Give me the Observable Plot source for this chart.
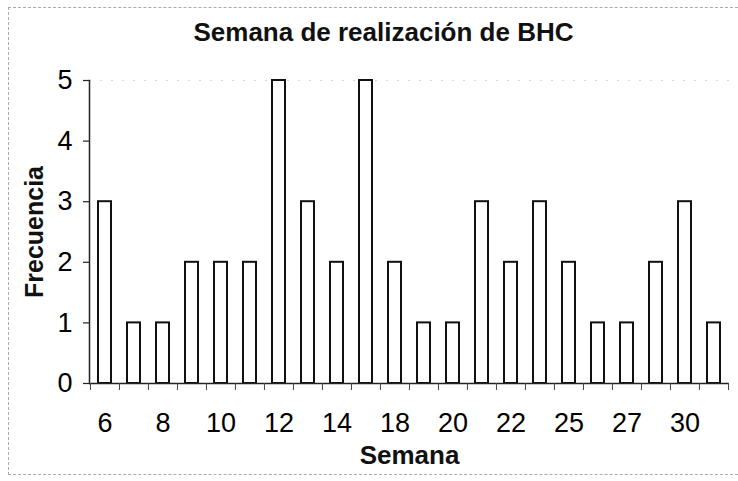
<!DOCTYPE html>
<html>
<head>
<meta charset="utf-8">
<script src="https://cdn.jsdelivr.net/npm/d3@7"></script>
<script src="https://cdn.jsdelivr.net/npm/@observablehq/plot@0.6"></script>
<style>
  html, body { margin: 0; padding: 0; background: #fff; }
  #wrap { position: relative; width: 738px; height: 481px; overflow: hidden; }
  #wrap svg { position: absolute; left: 0; top: 0; }
  #border { position: absolute; left: 8px; top: 7px; width: 740px; height: 468px;
            border: 1px dashed #aaa; box-sizing: border-box; pointer-events: none; }
</style>
</head>
<body>
<div id="wrap"><div id="border"></div></div>
<script>
const title = "Semana de realización de BHC";
const xLabel = "Semana";
const yLabel = "Frecuencia";
const semanas = ["6","7","8","9","10","11","12","13","14","16","18","19","20","21","22","24","25","26","27","28","30","31"];
const frecuencias = [3,1,1,2,2,2,5,3,2,5,2,1,1,3,2,3,2,1,1,2,3,1];
const xTickLabels = ["6","8","10","12","14","18","20","22","25","27","30"];
const yTicks = [0,1,2,3,4,5];

const data = semanas.map((s, i) => ({semana: s, freq: frecuencias[i]}));

const W = 738, H = 481, mL = 89, mR = 9, mT = 80, mB = 98;
const pIn = 0.55, pOut = 0.275;
const step = (W - mL - mR) / (semanas.length - pIn + 2 * pOut);
const font = "Liberation Sans, Arial, sans-serif";

const chart = Plot.plot({
  width: W, height: H,
  marginLeft: mL, marginRight: mR, marginTop: mT, marginBottom: mB,
  style: {fontFamily: font, background: "transparent", color: "#000"},
  x: {type: "band", domain: semanas, paddingInner: pIn, paddingOuter: pOut, axis: null},
  y: {domain: [0, 5], axis: null},
  marks: [
    Plot.ruleY([5], {stroke: "#d8d8d8", strokeDasharray: "2,9"}),
    Plot.barY(data, {x: "semana", y: "freq", fill: "white", stroke: "#111", strokeWidth: 2}),
    Plot.ruleY([0], {stroke: "#222", strokeWidth: 1.5}),
    Plot.frame({anchor: "left", stroke: "#222", strokeWidth: 1.5}),
    Plot.axisY({ticks: yTicks, tickFormat: "d", tickSize: 6, tickPadding: 11, fontSize: 27, label: null, stroke: "#222", strokeWidth: 1.2}),
    Plot.axisX({ticks: semanas, tickSize: 7, tickFormat: () => "", dx: -step / 2, label: null, stroke: "#444"}),
    Plot.axisX({ticks: [semanas[semanas.length - 1]], tickSize: 7, tickFormat: () => "", dx: step / 2, label: null, stroke: "#444"}),
    Plot.axisX({ticks: xTickLabels, tickSize: 0, tickPadding: 29, fontSize: 27, label: null}),
    Plot.text([yLabel], {frameAnchor: "left", dx: -55, rotate: -90, textAnchor: "middle", lineAnchor: "middle", fontSize: 25, fontWeight: "bold", fill: "#111"}),
    Plot.text([xLabel], {frameAnchor: "bottom", dy: 72, textAnchor: "middle", lineAnchor: "middle", fontSize: 26, fontWeight: "bold", fill: "#111"}),
    Plot.text([title], {frameAnchor: "top", dy: -48, dx: -26, textAnchor: "middle", lineAnchor: "middle", fontSize: 26, fontWeight: "bold", fill: "#111"})
  ]
});
document.getElementById("wrap").prepend(chart);
</script>
</body>
</html>
